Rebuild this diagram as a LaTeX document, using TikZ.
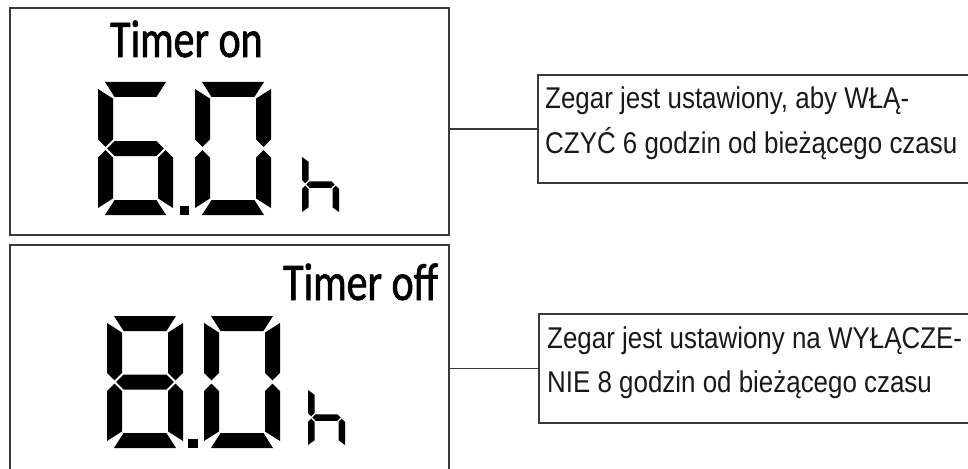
\documentclass[tikz,border=0pt]{standalone}
\usepackage{fontspec}
\newfontfamily\lcdfont[FakeStretch=0.79,FakeBold=1.2]{Carlito}
\newfontfamily\descfont[FakeStretch=0.864]{Liberation Sans}
\definecolor{boxgray}{HTML}{3A3A3A}
\tikzset{
  seg/.style={fill=black, draw=none},
  dispbox/.style={draw=boxgray, line width=1.5pt, rectangle, inner sep=0pt, outer sep=0pt, anchor=north west},
  descbox/.style={draw=boxgray, line width=1.3pt, rectangle, inner sep=0pt, outer sep=0pt, anchor=north west},
  lcdlabel/.style={anchor=base west, inner sep=0pt, font=\lcdfont\fontsize{53}{53}\selectfont},
  desctext/.style={anchor=base west, inner sep=0pt, text=black!90, font=\descfont\fontsize{30}{30}\selectfont},
  connector/.style={draw=boxgray, line width=1.2pt},
}
\newcommand{\lcdsega}{\fill[seg] (\lcdK,0) -- ({\lcdW-\lcdK},0) -- ({\lcdW-\lcdT-\lcdG},\lcdT) -- ({\lcdT+\lcdG},\lcdT) -- cycle;}
\newcommand{\lcdsegb}{\fill[seg] (\lcdW,\lcdK) -- (\lcdW,{\lcdM-\lcdT/2-\lcdG}) -- ({\lcdW-\lcdT/2},{\lcdM-\lcdG}) -- ({\lcdW-\lcdT},{\lcdM-\lcdT/2-\lcdG}) -- ({\lcdW-\lcdT},{\lcdT+\lcdG}) -- cycle;}
\newcommand{\lcdsegc}{\fill[seg] (\lcdW,{\lcdH-\lcdK}) -- (\lcdW,{\lcdM+\lcdT/2+\lcdG}) -- ({\lcdW-\lcdT/2},{\lcdM+\lcdG}) -- ({\lcdW-\lcdT},{\lcdM+\lcdT/2+\lcdG}) -- ({\lcdW-\lcdT},{\lcdH-\lcdT-\lcdG}) -- cycle;}
\newcommand{\lcdsegd}{\fill[seg] (\lcdK,\lcdH) -- ({\lcdW-\lcdK},\lcdH) -- ({\lcdW-\lcdT-\lcdG},{\lcdH-\lcdT}) -- ({\lcdT+\lcdG},{\lcdH-\lcdT}) -- cycle;}
\newcommand{\lcdsege}{\fill[seg] (0,{\lcdH-\lcdK}) -- (0,{\lcdM+\lcdT/2+\lcdG}) -- ({\lcdT/2},{\lcdM+\lcdG}) -- (\lcdT,{\lcdM+\lcdT/2+\lcdG}) -- (\lcdT,{\lcdH-\lcdT-\lcdG}) -- cycle;}
\newcommand{\lcdsegf}{\fill[seg] (0,\lcdK) -- (0,{\lcdM-\lcdT/2-\lcdG}) -- ({\lcdT/2},{\lcdM-\lcdG}) -- (\lcdT,{\lcdM-\lcdT/2-\lcdG}) -- (\lcdT,{\lcdT+\lcdG}) -- cycle;}
\newcommand{\lcdsegg}{\fill[seg] ({\lcdT/2+\lcdG},\lcdM) -- ({\lcdT+\lcdG},{\lcdM-\lcdT/2}) -- ({\lcdW-\lcdT-\lcdG},{\lcdM-\lcdT/2}) -- ({\lcdW-\lcdT/2-\lcdG},\lcdM) -- ({\lcdW-\lcdT-\lcdG},{\lcdM+\lcdT/2}) -- ({\lcdT+\lcdG},{\lcdM+\lcdT/2}) -- cycle;}
% #1 x, #2 y, #3 W, #4 H, #5 T, #6 G, #7 K, #8 segments
\newcommand{\sevenseg}[8]{%
  \begin{scope}[shift={(#1,#2)}]
    \pgfmathsetmacro\lcdW{#3}\pgfmathsetmacro\lcdH{#4}
    \pgfmathsetmacro\lcdT{#5}\pgfmathsetmacro\lcdG{#6}
    \pgfmathsetmacro\lcdK{#7}\pgfmathsetmacro\lcdM{#4/2}
    \foreach \s in {#8} {\csname lcdseg\s\endcsname}
  \end{scope}}
\begin{document}
\begin{tikzpicture}[x=1pt,y=-1pt]
\useasboundingbox (0,0) rectangle (968,468);
% display boxes
\node[dispbox, minimum width=439pt, minimum height=227pt] (disp1) at (10,8) {};
\node[dispbox, minimum width=439pt, minimum height=300pt] (disp2) at (10,245) {};
% description boxes
\node[descbox, minimum width=460pt, minimum height=108pt] (desc1) at (538,75) {};
\node[descbox, minimum width=460pt, minimum height=109pt] (desc2) at (539,314) {};
% connectors
\draw[connector] (desc1.west -| disp1.east) -- (desc1.west);
\draw[connector] (desc2.west -| disp2.east) -- (desc2.west);
% top display
\node[lcdlabel] (lab1) at (110,57) {Timer on};
\sevenseg{98}{82}{75}{133}{15}{1.6}{7}{a,c,d,e,f,g}
\sevenseg{195}{82}{76}{133}{15}{1.6}{7}{a,b,c,d,e,f}
\fill[seg] (180,206) rectangle (189,215);
\sevenseg{302}{154}{37}{61}{6.5}{1.2}{3}{c,e,f,g}
% bottom display
\node[lcdlabel] (lab2) at (283,300) {Timer off};
\sevenseg{107}{316}{76}{132}{15}{1.6}{7}{a,b,c,d,e,f,g}
\sevenseg{204}{316}{76}{132}{15}{1.6}{7}{a,b,c,d,e,f}
\fill[seg] (188,439) rectangle (198,448);
\sevenseg{308}{387}{37}{61}{6.5}{1.2}{3}{c,e,f,g}
% description texts
\node[desctext] (t1a) at (545,109) {Zegar jest ustawiony, aby WŁĄ-};
\node[desctext] (t1b) at (545,153) {CZYĆ 6 godzin od bieżącego czasu};
\node[desctext] (t2a) at (547,348) {Zegar jest ustawiony na WYŁĄCZE-};
\node[desctext] (t2b) at (547,392) {NIE 8 godzin od bieżącego czasu};
\end{tikzpicture}
\end{document}
